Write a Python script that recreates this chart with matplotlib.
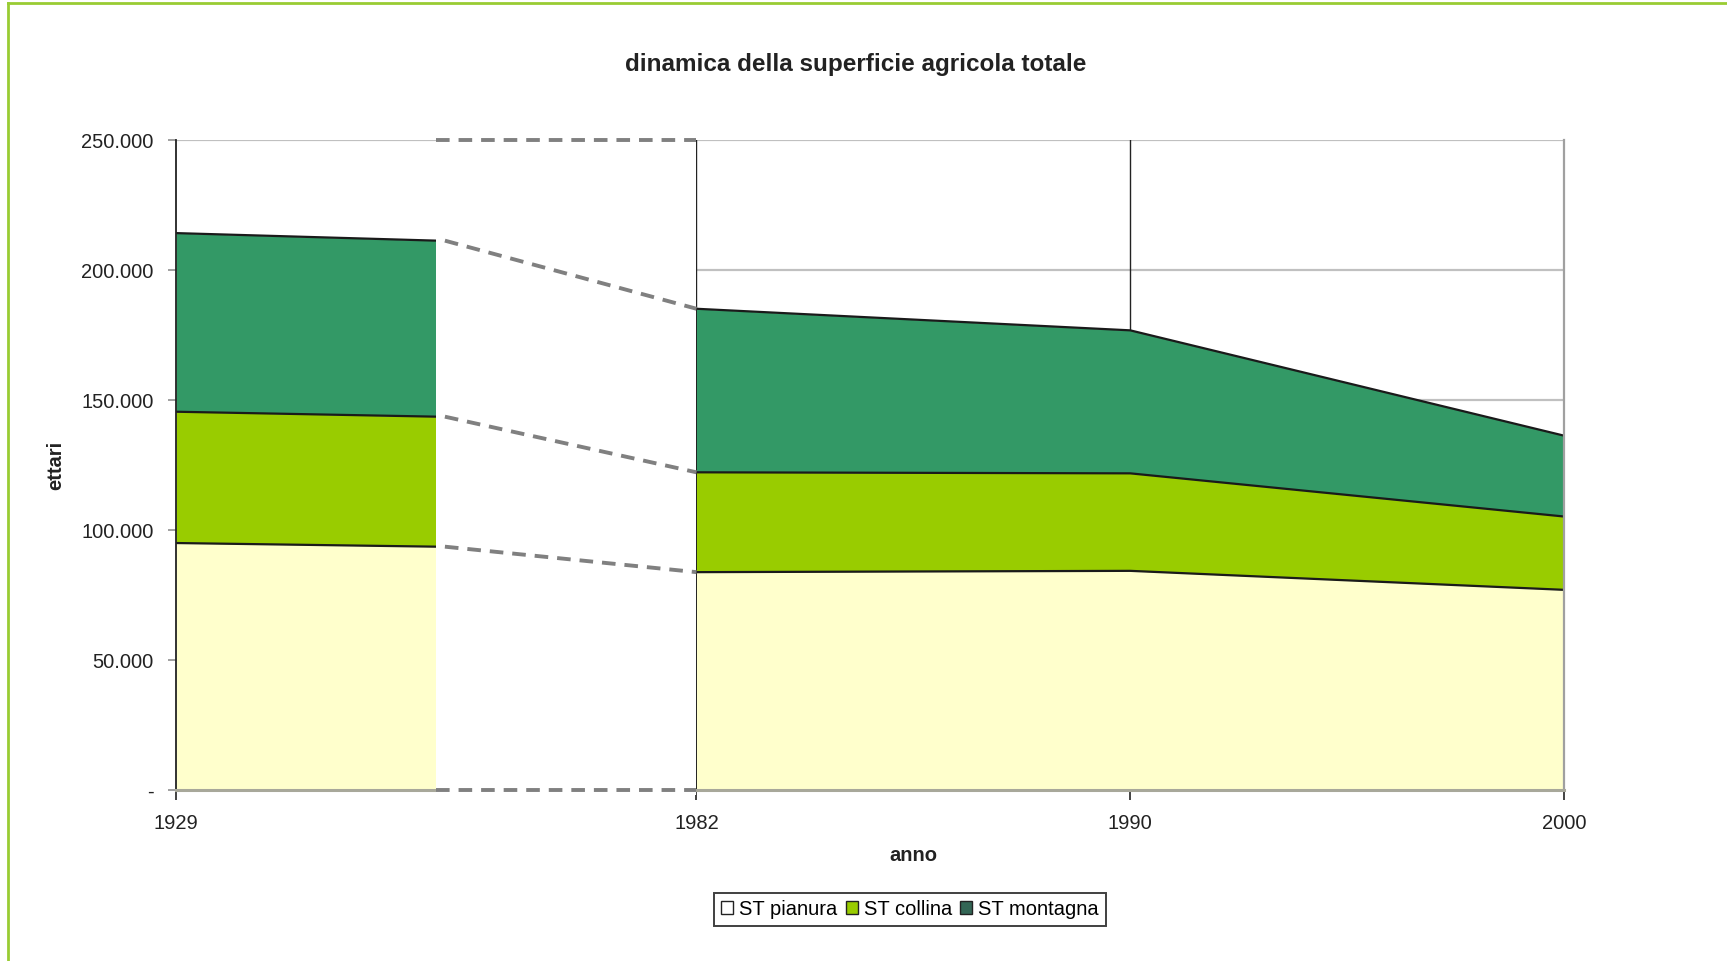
import matplotlib
matplotlib.use('Agg')
import matplotlib.pyplot as plt
from matplotlib.patches import Patch, Rectangle
from matplotlib.ticker import FuncFormatter

plt.rcParams['font.family'] = ['Liberation Sans', 'DejaVu Sans']

# census years and their positions on the category axis (1929 sits apart)
anni = ['1929', '1982', '1990', '2000']
pos = [0.0, 1.2, 2.2, 3.2]
pos_break = 0.6

# hectares per altitude zone
pianura = [95000, 83800, 84300, 77000]
collina = [50500, 38400, 37500, 28200]
montagna = [68700, 62900, 55000, 31100]

# values where the 1929 block is cut
break_vals = [93600, 50000, 67700]

serie = ['ST pianura', 'ST collina', 'ST montagna']
colori = ['#ffffcc', '#99cc00', '#339966']

fig = plt.figure(figsize=(17.27, 9.61), dpi=100)
ax = fig.add_axes([0.1019, 0.1779, 0.8037, 0.6764])

ax.set_xlim(pos[0], pos[-1])
ax.set_ylim(0, 250000)

# horizontal grid + vertical category lines behind the areas
for y in range(50000, 250001, 50000):
    ax.axhline(y, color='#c0c0c0', lw=1.6, zorder=0)
for x in pos[1:3]:
    ax.axvline(x, color='#222222', lw=1.0, zorder=0)


def stack(values):
    lo = [0] * len(values[0])
    out = []
    for v in values:
        hi = [a + b for a, b in zip(lo, v)]
        out.append((lo, hi))
        lo = hi
    return out


# 1929 block
left_vals = [[pianura[0], break_vals[0]], [collina[0], break_vals[1]], [montagna[0], break_vals[2]]]
xl = [pos[0], pos_break]
for (lo, hi), c in zip(stack(left_vals), colori):
    ax.fill_between(xl, lo, hi, color=c, lw=0, zorder=1)
    ax.plot(xl, hi, color='#1a1a1a', lw=1.6, zorder=2)

# 1982-2000 block
xr = pos[1:]
right_vals = [pianura[1:], collina[1:], montagna[1:]]
right_stack = stack(right_vals)
for (lo, hi), c in zip(right_stack, colori):
    ax.fill_between(xr, lo, hi, color=c, lw=0, zorder=1)
    ax.plot(xr, hi, color='#1a1a1a', lw=1.6, zorder=2)

# blank gap between the two blocks, with dashed connectors
ax.add_patch(Rectangle((pos_break, -2000), pos[1] - pos_break, 254000,
                       facecolor='white', edgecolor='none', zorder=3, clip_on=False))
dash = dict(color='#808080', lw=2.8, ls=(0, (3.5, 2.3)), zorder=4, clip_on=False)
ax.plot([pos_break, pos[1]], [250000, 250000], **dash)
ax.plot([pos_break, pos[1]], [0, 0], **dash)
tops_left = [sum(break_vals[:i + 1]) for i in range(3)]
tops_right = [hi[0] for lo, hi in right_stack]
for a, b in zip(tops_left, tops_right):
    ax.plot([pos_break + 0.02, pos[1]], [a, b], **dash)

# axes styling
ax.spines['top'].set_visible(False)
ax.spines['left'].set_color('#222222')
ax.spines['left'].set_linewidth(1.3)
ax.spines['right'].set_color('#a0a0a0')
ax.spines['right'].set_linewidth(1.6)
ax.spines['bottom'].set_color('#a8a89a')
ax.spines['bottom'].set_linewidth(2.2)
ax.spines['bottom'].set_zorder(2.5)

ax.set_xticks(pos)
ax.set_xticklabels(anni)
ax.set_yticks(range(0, 250001, 50000))
ax.yaxis.set_major_formatter(FuncFormatter(
    lambda v, p: '-' if v == 0 else f'{int(v):,}'.replace(',', '.')))
ax.tick_params(axis='x', direction='out', length=7, width=1.2, color='#222222',
               labelsize=14.5, pad=10, labelcolor='#222222')
ax.tick_params(axis='y', direction='out', length=6, width=1.4, color='#a0a0a0',
               labelsize=14.5, pad=10, labelcolor='#222222')

fig.text(0.4955, 0.933, 'dinamica della superficie agricola totale',
         ha='center', va='center', fontsize=17.5, fontweight='bold', color='#222222')
fig.text(0.032, 0.516, 'ettari', ha='center', va='center', rotation=90,
         fontsize=14.5, fontweight='bold', color='#222222')
fig.text(0.529, 0.110, 'anno', ha='center', va='center',
         fontsize=14.5, fontweight='bold', color='#222222')

handles = [Patch(facecolor=c, edgecolor='#222222', lw=1.0) for c in ['#ffffff', '#99cc00', '#336655']]
leg = fig.legend(handles, serie, loc='center', bbox_to_anchor=(0.527, 0.054), ncol=3,
                 fontsize=14.5, frameon=True, fancybox=False, handlelength=0.6,
                 handleheight=0.6, handletextpad=0.3, columnspacing=0.4,
                 borderpad=0.35, borderaxespad=0)
leg.get_frame().set_edgecolor('#111111')
leg.get_frame().set_linewidth(1.4)

# outer frame line of the page
fig.add_artist(plt.Line2D([8 / 1727, 8 / 1727], [0, 1 - 3 / 961], color='#99cc33',
                          lw=2, transform=fig.transFigure))
fig.add_artist(plt.Line2D([8 / 1727, 1], [1 - 3 / 961, 1 - 3 / 961], color='#99cc33',
                          lw=2, transform=fig.transFigure))

fig.savefig('out.png', dpi=100)
